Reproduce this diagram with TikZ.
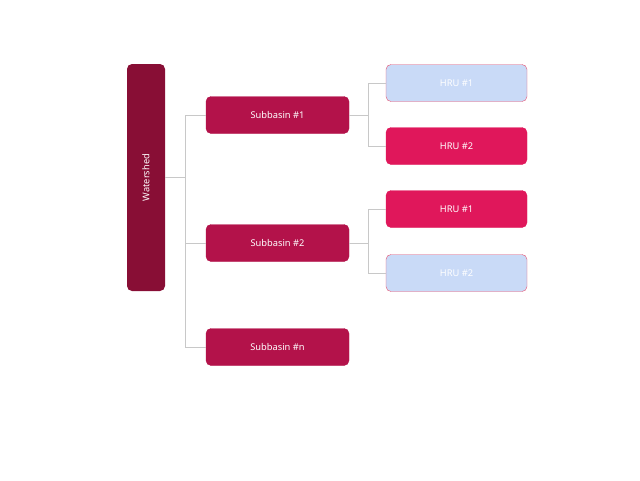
\documentclass[tikz,border=0pt]{standalone}
\usepackage{fontspec}
\setmainfont{Noto Sans}
\usepackage{xcolor}
\usetikzlibrary{positioning}

\definecolor{shedred}{HTML}{880E35}
\definecolor{basinred}{HTML}{B3124A}
\definecolor{hrured}{HTML}{E0175B}
\definecolor{hrublue}{HTML}{C9DAF7}
\definecolor{hruline}{HTML}{E8506E}
\definecolor{linkgray}{HTML}{C8C8C8}

\begin{document}
\begin{tikzpicture}[x=1pt, y=-1pt,
    box/.style={rectangle, rounded corners=5pt, inner sep=0pt, text=white, font=\fontsize{9.3}{11}\selectfont},
    shedbox/.style={box, fill=shedred, minimum width=227pt, minimum height=38pt, rotate=90},
    basinbox/.style={box, fill=basinred, draw=basinred, minimum width=143pt, minimum height=37pt},
    hrubox/.style={box, fill=hrured, draw=hrured, minimum width=141pt, minimum height=37pt},
    hrulight/.style={box, fill=hrublue, draw=hruline, minimum width=141pt, minimum height=37pt},
    link/.style={draw=linkgray, line width=0.9pt}]
    \useasboundingbox (0, 0) rectangle (640, 480);

    \node[shedbox] (ws) at (146, 177.5) {Watershed};

    \node[basinbox] (sb1) at (277.5, 115) {Subbasin \#1};
    \node[basinbox] (sb2) at (277.5, 243) {Subbasin \#2};
    \node[basinbox] (sbn) at (277.5, 347) {Subbasin \#n};

    \node[hrulight] (h11) at (456.5, 83) {HRU \#1};
    \node[hrubox] (h12) at (456.5, 146) {HRU \#2};
    \node[hrubox] (h21) at (456.5, 209) {HRU \#1};
    \node[hrulight] (h22) at (456.5, 273) {HRU \#2};

    \coordinate (j0) at (185, 177.5);
    \coordinate (j1) at (368, 115);
    \coordinate (j2) at (368, 243);

    \draw[link] (ws.south) -- (j0);
    \draw[link] (j0) |- (sb1.west);
    \draw[link] (j0) |- (sb2.west);
    \draw[link] (j0) |- (sbn.west);
    \draw[link] (sb1.east) -- (j1);
    \draw[link] (j1) |- (h11.west);
    \draw[link] (j1) |- (h12.west);
    \draw[link] (sb2.east) -- (j2);
    \draw[link] (j2) |- (h21.west);
    \draw[link] (j2) |- (h22.west);
\end{tikzpicture}
\end{document}
